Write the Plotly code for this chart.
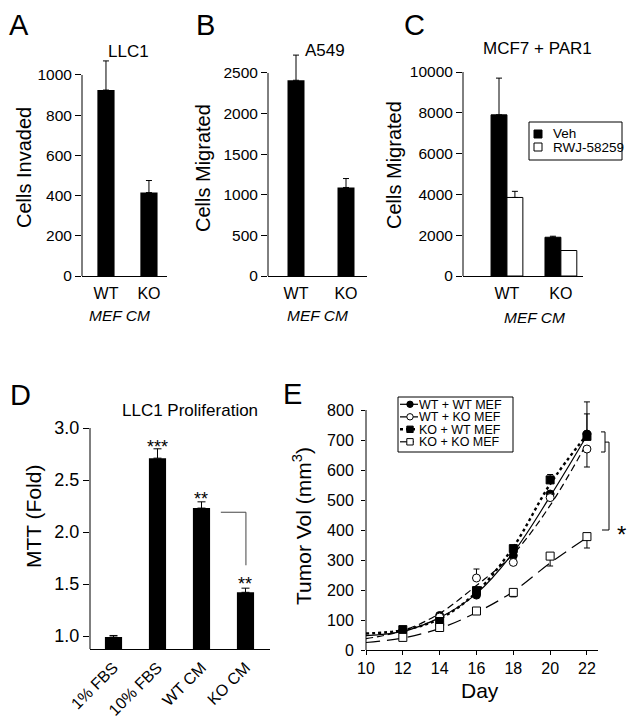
import plotly.graph_objects as go

# The page places the figure 8px from the top-left corner, so the figure is
# sized to the visible area and reference pixel positions are offset by 8.
OFF = 8
W, H = 638 - OFF, 723 - OFF
FONT = "Liberation Sans, Arial, Helvetica, sans-serif"

# ---------------- data ----------------
# Panel A
a_groups = ["WT", "KO"]
a_values = [925, 415]
a_err = [145, 60]
a_ticks = [0, 200, 400, 600, 800, 1000]

# Panel B
b_groups = ["WT", "KO"]
b_values = [2410, 1090]
b_err = [310, 110]
b_ticks = [0, 500, 1000, 1500, 2000, 2500]

# Panel C
c_groups = ["WT", "KO"]
c_series = ["Veh", "RWJ-58259"]
c_veh = [7900, 1900]
c_veh_err = [1800, 50]
c_rwj = [3850, 1250]
c_rwj_err = [300, 0]
c_ticks = [0, 2000, 4000, 6000, 8000, 10000]

# Panel D
d_groups = ["1% FBS", "10% FBS", "WT CM", "KO CM"]
d_values = [0.99, 2.71, 2.23, 1.42]
d_err = [0.015, 0.09, 0.06, 0.04]
d_stars = ["", "***", "**", "**"]
d_star_y = [None, 2.855, 2.356, 1.54]
d_ticks = [1.0, 1.5, 2.0, 2.5, 3.0]

# Panel E
e_names = ["WT + WT MEF", "WT + KO MEF", "KO + WT MEF", "KO + KO MEF"]
e_days = [12, 14, 16, 18, 20, 22]
e_wtwt = [65, 115, 183, 315, 520, 720]
e_wtwt_up = [0, 0, 0, 0, 0, 67]
e_wtko = [62, 110, 240, 292, 508, 670]
e_wtko_up = [0, 0, 30, 0, 0, 0]
e_wtko_dn = [0, 0, 0, 0, 0, 60]
e_kowt = [68, 95, 198, 338, 567, 712]
e_kowt_up = [0, 0, 0, 0, 18, 115]
e_koko = [42, 75, 130, 192, 313, 378]
e_koko_dn = [0, 0, 0, 15, 33, 38]
e_fit_days = [10, 12, 14, 16, 18, 20, 22]
e_fit_wtwt = [48, 62, 108, 188, 325, 512, 715]
e_fit_wtko = [38, 64, 122, 215, 320, 482, 690]
e_fit_kowt = [55, 66, 104, 193, 343, 553, 718]
e_fit_koko = [25, 40, 72, 125, 195, 290, 375]
e_ticks_x = [10, 12, 14, 16, 18, 20, 22]
e_ticks_y = [0, 100, 200, 300, 400, 500, 600, 700, 800]


def X(px):
    return (px - OFF) / W


def Y(py):
    return 1 - (py - OFF) / H


def dx(l, r):
    return [X(l), X(r)]


def dy(bottom_px, top_px):
    return [Y(bottom_px), Y(top_px)]


fig = go.Figure()

ebar = dict(type="data", symmetric=False, color="black", thickness=1, width=3)

# A
fig.add_trace(go.Bar(x=list(range(len(a_groups))), y=a_values, width=0.40,
                     marker=dict(color="black", line=dict(width=0)),
                     error_y=dict(ebar, array=a_err, arrayminus=[0] * len(a_err)),
                     xaxis="x", yaxis="y", showlegend=False))
# B
fig.add_trace(go.Bar(x=list(range(len(b_groups))), y=b_values, width=0.34,
                     marker=dict(color="black", line=dict(width=0)),
                     error_y=dict(ebar, array=b_err, arrayminus=[0] * len(b_err)),
                     xaxis="x2", yaxis="y2", showlegend=False))
# C
fig.add_trace(go.Bar(x=list(range(len(c_groups))), y=c_veh, name=c_series[0],
                     marker=dict(color="black", line=dict(color="black", width=1)),
                     error_y=dict(ebar, array=c_veh_err, arrayminus=[0] * len(c_veh_err)),
                     xaxis="x3", yaxis="y3", showlegend=False))
fig.add_trace(go.Bar(x=list(range(len(c_groups))), y=c_rwj, name=c_series[1],
                     marker=dict(color="white", line=dict(color="black", width=1)),
                     error_y=dict(ebar, array=c_rwj_err, arrayminus=[0] * len(c_rwj_err)),
                     xaxis="x3", yaxis="y3", showlegend=False))
# D
fig.add_trace(go.Bar(x=list(range(len(d_groups))), y=d_values, width=0.39,
                     marker=dict(color="black", line=dict(width=0)),
                     error_y=dict(ebar, array=d_err, arrayminus=[0] * len(d_err), width=4),
                     xaxis="x4", yaxis="y4", showlegend=False))

# E
styles = [
    (e_names[0], e_fit_wtwt, e_wtwt, e_wtwt_up, [0] * 6, "solid", 1.2, "circle", "black"),
    (e_names[1], e_fit_wtko, e_wtko, e_wtko_up, e_wtko_dn, "7px,4px", 1.2, "circle", "white"),
    (e_names[2], e_fit_kowt, e_kowt, e_kowt_up, [0] * 6, "dot", 2.4, "square", "black"),
    (e_names[3], e_fit_koko, e_koko, [0] * 6, e_koko_dn, "14px,7px", 1.2, "square", "white"),
]
for name, fit, vals, up, dn, dash, lw, sym, fill in styles:
    fig.add_trace(go.Scatter(x=e_fit_days, y=fit, mode="lines", line_shape="spline",
                             line=dict(color="black", width=lw, dash=dash),
                             xaxis="x5", yaxis="y5", showlegend=False, hoverinfo="skip"))
for name, fit, vals, up, dn, dash, lw, sym, fill in styles:
    fig.add_trace(go.Scatter(x=e_days, y=vals, mode="markers", name=name,
                             marker=dict(symbol=sym, size=8, color=fill,
                                         line=dict(color="black", width=1)),
                             error_y=dict(ebar, array=up, arrayminus=dn, width=3),
                             xaxis="x5", yaxis="y5", showlegend=False))

common_x = dict(showline=True, linecolor="black", linewidth=1, showgrid=False,
                zeroline=False, fixedrange=True, color="black", automargin=False)
common_y = dict(showline=False, showgrid=False, zeroline=False, fixedrange=True,
                ticks="outside", ticklen=6, tickcolor="black", tickwidth=1, color="black",
                automargin=False)

fig.update_layout(
    width=W, height=H, margin=dict(l=0, r=0, t=0, b=0, autoexpand=False),
    paper_bgcolor="white", plot_bgcolor="white", showlegend=False,
    font=dict(family=FONT, color="black", size=15),
    barmode="group", bargap=0.41, bargroupgap=0,
    xaxis=dict(common_x, domain=dx(82, 167), range=[-0.558, 1.42], anchor="y",
               tickvals=list(range(len(a_groups))), ticktext=a_groups, ticks="",
               ticklabelstandoff=3, tickfont=dict(size=16)),
    yaxis=dict(common_y, domain=dy(276, 58.9), range=[0, 1080], anchor="x",
               tickvals=a_ticks, ticktext=[str(v) for v in a_ticks], tickfont=dict(size=15.5)),
    xaxis2=dict(common_x, domain=dx(268, 367), range=[-0.56, 1.42], anchor="y2",
                tickvals=list(range(len(b_groups))), ticktext=b_groups, ticks="",
                ticklabelstandoff=3, tickfont=dict(size=16)),
    yaxis2=dict(common_y, domain=dy(276, 48.6), range=[0, 2800], anchor="x2",
                tickvals=b_ticks, ticktext=[str(v) for v in b_ticks], tickfont=dict(size=15.5)),
    xaxis3=dict(common_x, domain=dx(463, 583), range=[-0.815, 1.41], anchor="y3",
                tickvals=list(range(len(c_groups))), ticktext=c_groups, ticks="",
                ticklabelstandoff=3, tickfont=dict(size=16)),
    yaxis3=dict(common_y, domain=dy(276, 72), range=[0, 10000], anchor="x3",
                tickvals=c_ticks, ticktext=[str(v) for v in c_ticks], tickfont=dict(size=15.5)),
    xaxis4=dict(common_x, domain=dx(90, 270), range=[-0.534, 3.557], anchor="y4",
                tickvals=list(range(len(d_groups))), ticktext=d_groups, ticks="",
                tickangle=-45, ticklabelstandoff=2, tickfont=dict(size=16)),
    yaxis4=dict(common_y, domain=dy(649, 428), range=[0.875, 3.0], anchor="x4",
                tickvals=d_ticks, tickformat=".1f", tickfont=dict(size=18)),
    xaxis5=dict(common_x, domain=dx(366, 598), range=[10, 22.6], anchor="y5",
                tickvals=e_ticks_x, ticks="outside", ticklen=4, tickcolor="black",
                tickfont=dict(size=16)),
    yaxis5=dict(common_y, domain=dy(650, 398), range=[0, 840], anchor="x5",
                tickvals=e_ticks_y, ticklen=4, ticklabelstandoff=4, tickfont=dict(size=16)),
)

shapes = []
# y-axis lines (end at top tick)
for ax, y0, y1 in [("", 0, 1000), ("2", 0, 2500), ("3", 0, 10000), ("4", 0.875, 3.0), ("5", 0, 800)]:
    shapes.append(dict(type="line", xref=f"x{ax} domain", x0=0, x1=0, yref=f"y{ax}",
                       y0=y0, y1=y1, line=dict(color="black", width=1)))
# D bracket
shapes.append(dict(type="path", xref="x4", yref="y4",
                   path="M 2.44,2.19 L 3.01,2.19 L 3.01,1.68",
                   line=dict(color="#444", width=1)))
# E brackets
shapes.append(dict(type="path", xref="paper", yref="y5",
                   path=f"M {X(601)},727 L {X(605)},727 L {X(605)},660 L {X(601)},660",
                   line=dict(color="black", width=1)))
shapes.append(dict(type="path", xref="paper", yref="y5",
                   path=f"M {X(605)},693 L {X(609)},693 L {X(609)},400 L {X(602)},400",
                   line=dict(color="black", width=1)))

ann = []


def txt(x, y, s, size, **kw):
    d = dict(x=x, y=y, xref="paper", yref="paper", text=s, showarrow=False,
             font=dict(size=size, family=FONT, color="black"),
             xanchor="center", yanchor="middle")
    d.update(kw)
    ann.append(d)


def rect_px(x0, y0, x1, y1, **kw):
    d = dict(type="rect", xref="paper", yref="paper", x0=X(x0), x1=X(x1), y0=Y(y0), y1=Y(y1))
    d.update(kw)
    shapes.append(d)


# ---- legend C (drawn) ----
rect_px(529, 122, 622, 160, line=dict(color="black", width=1), fillcolor="white")
c_fill = ["black", "white"]
for i, nm in enumerate(c_series):
    cy = 134 + i * 13
    rect_px(534, cy - 4, 542, cy + 4, line=dict(color="black", width=1), fillcolor=c_fill[i])
    txt(X(551), Y(cy), nm, 13.5, xanchor="left")

# ---- legend E (drawn) ----
rect_px(398, 397, 513, 452, line=dict(color="black", width=1), fillcolor="white")
for i, (name, fit, vals, up, dn, dash, lw, sym, fill) in enumerate(styles):
    cy = 404.3 + i * 12.5
    shapes.append(dict(type="line", xref="paper", yref="paper", x0=X(400), x1=X(418),
                       y0=Y(cy), y1=Y(cy), line=dict(color="black", width=lw, dash=dash)))
    r = 3.2
    kind = "circle" if sym == "circle" else "rect"
    shapes.append(dict(type=kind, xref="paper", yref="paper", x0=X(410 - r), x1=X(410 + r),
                       y0=Y(cy - r), y1=Y(cy + r), fillcolor=fill,
                       line=dict(color="black", width=1)))
    txt(X(418), Y(cy), name, 12.5, xanchor="left", height=11, valign="middle", borderpad=0)

fig.update_layout(shapes=shapes)

# panel letters
for letter, px, py in [("A", 19, 25), ("B", 205, 25), ("C", 414, 25), ("D", 20, 395), ("E", 292, 394)]:
    txt(X(px), Y(py), letter, 29)
# titles
txt(X(128), Y(51), "LLC1", 17)
txt(X(325), Y(50), "A549", 17)
txt(X(537), Y(49), "MCF7 + PAR1", 17)
txt(X(190), Y(410), "LLC1 Proliferation", 17)
# y titles
txt(X(24), Y(168), "Cells Invaded", 20, textangle=-90)
txt(X(203), Y(168), "Cells Migrated", 20, textangle=-90)
txt(X(394), Y(165), "Cells Migrated", 20, textangle=-90)
txt(X(33), Y(517), "MTT (Fold)", 21, textangle=-90)
txt(X(302), Y(526), "Tumor Vol (mm<sup>3</sup>)", 21, textangle=-90)
# x titles
txt(X(119), Y(315), "<i>MEF CM</i>", 15.5)
txt(X(317), Y(315), "<i>MEF CM</i>", 15.5)
txt(X(534), Y(317), "<i>MEF CM</i>", 15.5)
txt(X(480), Y(690), "Day", 21)
# stars D
for i, s in enumerate(d_stars):
    if s:
        ann.append(dict(x=i, y=d_star_y[i], xref="x4", yref="y4", text=s, showarrow=False,
                        font=dict(size=18, family=FONT, color="black"),
                        xanchor="center", yanchor="middle", yshift=-4))
# star E
ann.append(dict(x=X(621), y=405, xref="paper", yref="y5", text="*", showarrow=False,
                font=dict(size=24, family=FONT, color="black"),
                xanchor="center", yanchor="middle", yshift=-6))
fig.update_layout(annotations=ann)

fig.write_html("out.html")
